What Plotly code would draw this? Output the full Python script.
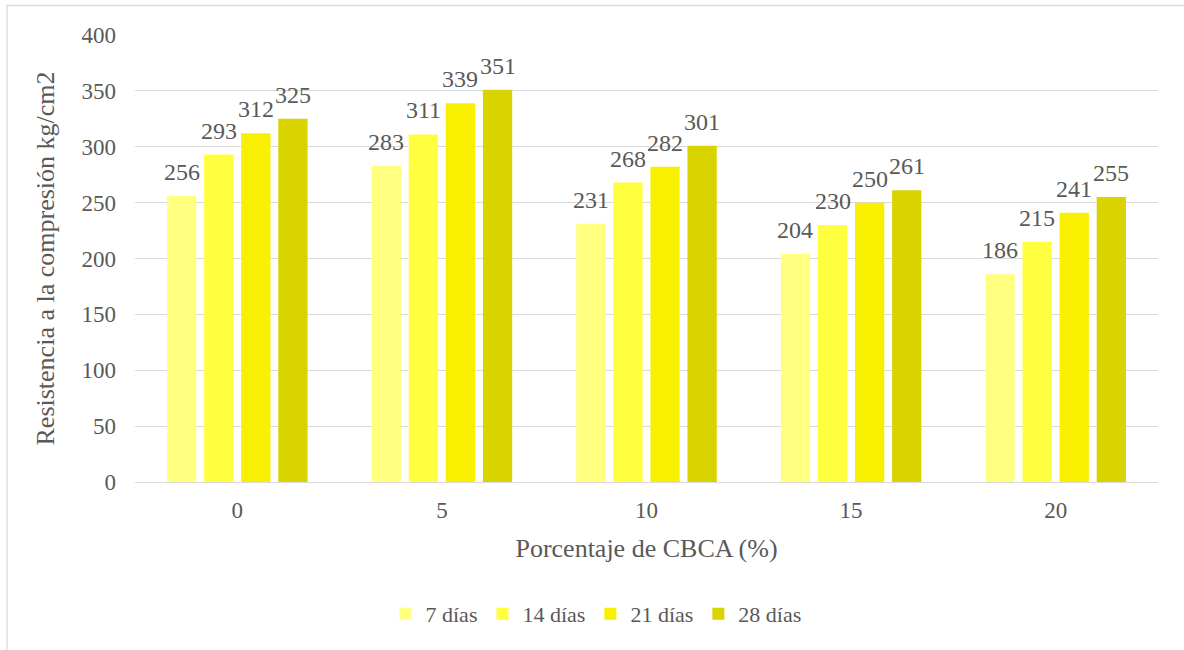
import plotly.graph_objects as go

# Compressive strength by CBCA replacement percentage and curing age
categorias = ["0", "5", "10", "15", "20"]
series = ["7 días", "14 días", "21 días", "28 días"]
valores = {
    "7 días": [256, 283, 231, 204, 186],
    "14 días": [293, 311, 268, 230, 215],
    "21 días": [312, 339, 282, 250, 241],
    "28 días": [325, 351, 301, 261, 255],
}
colores = ["#FFFF80", "#FFFF40", "#F8F000", "#D9D300"]
y_ticks = [0, 50, 100, 150, 200, 250, 300, 350, 400]

FONT = "Liberation Serif"
GRIS = "#595959"

L, R, T, B = 135, 1158, 35, 482
W, H = 1184, 650
BARGAP = 0.275
BARGROUPGAP = 0.21

fig = go.Figure()
for nombre, color in zip(series, colores):
    fig.add_trace(go.Bar(
        x=categorias,
        y=valores[nombre],
        name=nombre,
        marker=dict(color=color, line=dict(width=0)),
    ))

# value labels above each bar, placed at the centre of its slot in the group
cat_px = (R - L) / len(categorias)
slot_px = cat_px * (1 - BARGAP) / len(series)
for i, nombre in enumerate(series):
    dx = (i - (len(series) - 1) / 2) * slot_px
    for j, v in enumerate(valores[nombre]):
        fig.add_annotation(
            x=j, y=v, xref="x", yref="y",
            text=str(v), showarrow=False,
            xanchor="center", yanchor="middle",
            xshift=dx, yshift=24,
            font=dict(family=FONT, size=24, color=GRIS),
        )

fig.update_layout(
    width=W, height=H,
    margin=dict(l=L, r=W - R, t=T, b=H - B),
    paper_bgcolor="white",
    plot_bgcolor="white",
    barmode="group",
    bargap=BARGAP,
    bargroupgap=BARGROUPGAP,
    font=dict(family=FONT, color=GRIS),
    showlegend=True,
    legend=dict(
        orientation="h",
        x=(596 - L) / (R - L), xanchor="center",
        y=(B - 614) / (B - T), yanchor="middle",
        font=dict(family=FONT, size=22, color=GRIS),
        itemwidth=30,
        traceorder="normal",
    ),
    xaxis=dict(
        type="category",
        categoryorder="array",
        categoryarray=categorias,
        range=[-0.5, len(categorias) - 0.5],
        showgrid=False,
        showline=False,
        ticks="",
        ticklabelstandoff=12,
        tickfont=dict(family=FONT, size=23, color=GRIS),
        title=dict(text="Porcentaje de CBCA (%)", standoff=16,
                   font=dict(family=FONT, size=26, color=GRIS)),
    ),
    yaxis=dict(
        range=[0, 400],
        tickvals=y_ticks,
        showgrid=True,
        gridcolor="#D9D9D9",
        gridwidth=1.3,
        zeroline=True,
        zerolinecolor="#D9D9D9",
        zerolinewidth=1.3,
        showline=False,
        ticks="",
        ticklabelstandoff=18,
        tickfont=dict(family=FONT, size=23, color=GRIS),
        title=dict(text="Resistencia a la compresión kg/cm2", standoff=19,
                   font=dict(family=FONT, size=26, color=GRIS)),
    ),
    shapes=[dict(
        type="rect", xref="paper", yref="paper",
        x0=(7 - L) / (R - L), x1=(W + 20 - L) / (R - L),
        y0=(B - (H + 20)) / (B - T), y1=(B - 5.5) / (B - T),
        line=dict(color="#D9D9D9", width=1.3),
        fillcolor="rgba(0,0,0,0)",
        layer="below",
    )],
)

fig.write_html("out.html")
